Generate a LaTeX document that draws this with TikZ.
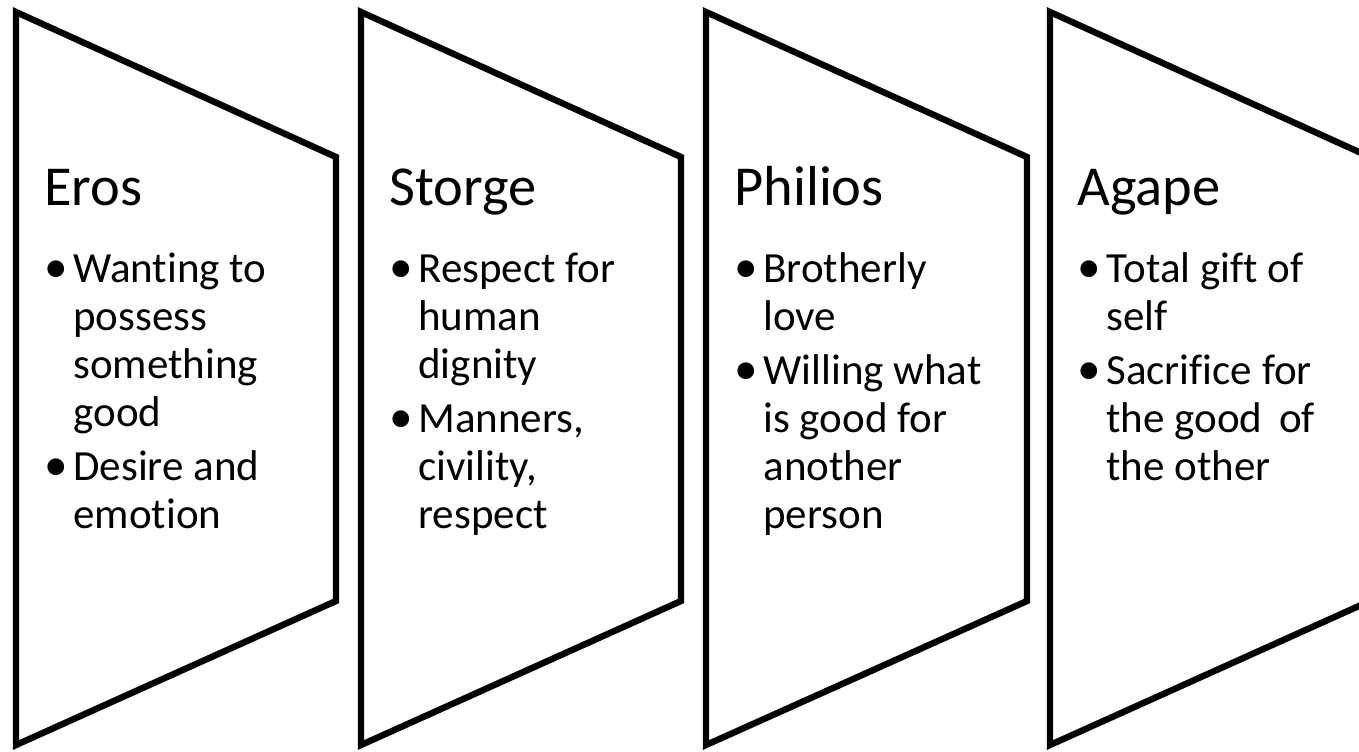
\documentclass[tikz,border=0pt]{standalone}
\usepackage{fontspec}
\setmainfont{Carlito}[Ligatures=NoCommon,RawFeature=-liga]
\newcommand{\itm}{\makebox[14pt][l]{\hspace{-0.5pt}\scalebox{1.1}{\textbullet}}}
\tikzset{
  panel/.style={line width=3.2pt, line join=miter},
  heading/.style={inner sep=0pt, anchor=base west, font=\fontsize{28.2}{32}\selectfont},
  items/.style={inner sep=0pt, anchor=base west, font=\fontsize{21.5}{24}\selectfont}
}
\begin{document}
\begin{tikzpicture}[x=0.5pt,y=-0.5pt]
 \clip (0,0) rectangle (1359,751);
 \fill[white] (0,0) rectangle (1359,751);
 % the four panels
 \draw[panel] (16,12)--(336,157)--(336,601)--(16,745)--cycle;
 \draw[panel] (361,12)--(681,157)--(681,601)--(361,745)--cycle;
 \draw[panel] (706,12)--(1027,157)--(1027,601)--(706,745)--cycle;
 \draw[panel] (1050,12)--(1370,157)--(1370,601)--(1050,745)--cycle;
 % Eros
 \node[heading] (eros) at (44,205) {Eros};
 \node[items] (eros-list) at (45,282) {\begin{tabular}[t]{@{}l@{}l@{}}
  \itm & Wanting to\\ & possess\\ & something\\ & good\\[3pt]
  \itm & Desire and\\ & emotion
 \end{tabular}};
 % Storge
 \node[heading] (storge) at (389,205) {Storge};
 \node[items] (storge-list) at (390,282) {\begin{tabular}[t]{@{}l@{}l@{}}
  \itm & Respect for\\ & human\\ & dignity\\[3pt]
  \itm & Manners,\\ & civility,\\ & respect
 \end{tabular}};
 % Philios
 \node[heading] (philios) at (734,205) {Philios};
 \node[items] (philios-list) at (735,282) {\begin{tabular}[t]{@{}l@{}l@{}}
  \itm & Brotherly\\ & love\\[3pt]
  \itm & Willing what\\ & is good for\\ & another\\ & person
 \end{tabular}};
 % Agape
 \node[heading] (agape) at (1077,205) {Agape};
 \node[items] (agape-list) at (1078,282) {\begin{tabular}[t]{@{}l@{}l@{}}
  \itm & Total gift of\\ & self\\[3pt]
  \itm & Sacrifice for\\ & the good\ \,of\\ & the other
 \end{tabular}};
\end{tikzpicture}
\end{document}
